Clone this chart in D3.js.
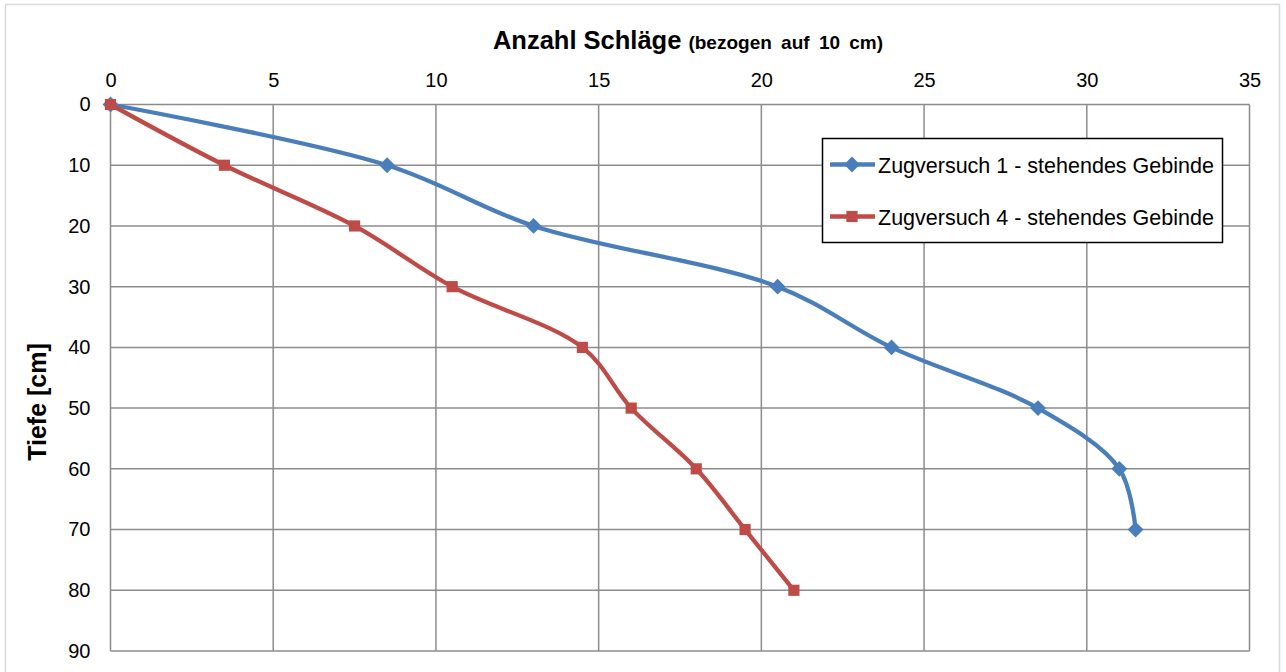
<!DOCTYPE html>
<html>
<head>
<meta charset="utf-8">
<script src="https://cdn.jsdelivr.net/npm/d3@7"></script>
<style>
  html, body { margin: 0; padding: 0; background: #fff; }
  svg { display: block; font-family: "Liberation Sans", Arial, sans-serif; }
</style>
</head>
<body>
<svg id="chart" width="1286" height="672"></svg>
<script>
// Schläge per 10 cm against depth for two pull tests
const depths = [0, 10, 20, 30, 40, 50, 60, 70, 80];
const blowsTest1 = [0, 8.5, 13, 20.5, 24, 28.5, 31, 31.5];
const blowsTest4 = [0, 3.5, 7.5, 10.5, 14.5, 16, 18, 19.5, 21];
const seriesNames = ["Zugversuch 1 - stehendes Gebinde", "Zugversuch 4 - stehendes Gebinde"];
const xTicks = [0, 5, 10, 15, 20, 25, 30, 35];
const yTicks = [0, 10, 20, 30, 40, 50, 60, 70, 80, 90];

const colors = ["#4a7ebb", "#be4b48"];

const svg = d3.select("#chart");
const m = { left: 110.5, right: 1249.5, top: 104.5, bottom: 651 };

// outer chart frame
svg.append("rect").attr("x", 5.5).attr("y", 4.5).attr("width", 1274).attr("height", 680)
  .attr("fill", "#fff").attr("stroke", "#d9d9d9").attr("stroke-width", 1.5);

const x = d3.scaleLinear().domain([0, 35]).range([m.left, m.right]);
const y = d3.scaleLinear().domain([0, 90]).range([m.top, m.bottom]);

// grid
const grid = svg.append("g");
grid.selectAll("line.v").data(xTicks).join("line")
  .attr("x1", d => x(d)).attr("x2", d => x(d))
  .attr("y1", m.top).attr("y2", m.bottom)
  .attr("stroke", "#8c8c8c").attr("stroke-width", 1.5);
grid.selectAll("line.h").data(yTicks).join("line")
  .attr("x1", m.left).attr("x2", m.right)
  .attr("y1", d => y(d)).attr("y2", d => y(d))
  .attr("stroke", "#8c8c8c").attr("stroke-width", 1.5);

// axes (top x axis, left y axis)
const xAxis = d3.axisTop(x).tickValues(xTicks).tickSize(0).tickPadding(18);
const gx = svg.append("g").attr("transform", `translate(0,${m.top})`).call(xAxis);
gx.select(".domain").remove();
gx.selectAll("text").attr("font-size", 20).attr("fill", "#000")
  .attr("font-family", "'Liberation Sans', Arial, sans-serif");

const yAxis = d3.axisLeft(y).tickValues(yTicks).tickSize(0).tickPadding(20);
const gy = svg.append("g").attr("transform", `translate(${m.left},0)`).call(yAxis);
gy.select(".domain").remove();
gy.selectAll("text").attr("font-size", 20).attr("fill", "#000")
  .attr("font-family", "'Liberation Sans', Arial, sans-serif");

// titles
const title = svg.append("text").attr("x", 688).attr("y", 49).attr("text-anchor", "middle")
  .attr("font-weight", "bold").attr("fill", "#000");
title.append("tspan").attr("font-size", 25.5).text("Anzahl Schläge ");
title.append("tspan").attr("font-size", 19).attr("word-spacing", 4).text("(bezogen auf 10 cm)");

svg.append("text").attr("transform", "translate(46,402) rotate(-90)")
  .attr("text-anchor", "middle").attr("font-weight", "bold").attr("font-size", 25)
  .text("Tiefe [cm]");

// series
const series = [blowsTest1, blowsTest4].map((vals, i) => ({
  name: seriesNames[i],
  color: colors[i],
  points: vals.map((v, j) => ({ x: v, y: depths[j] }))
}));

const line = d3.line().x(d => x(d.x)).y(d => y(d.y)).curve(d3.curveCatmullRom.alpha(0.5));

const diamond = d3.symbol().type(d3.symbolDiamond2).size(160);
const square = d3.symbol().type(d3.symbolSquare).size(125);
const shapes = [diamond, square];

series.forEach((s, i) => {
  svg.append("path").datum(s.points).attr("d", line)
    .attr("fill", "none").attr("stroke", s.color).attr("stroke-width", 4.3)
    .attr("stroke-linejoin", "round");
  svg.append("g").selectAll("path").data(s.points).join("path")
    .attr("transform", d => `translate(${x(d.x)},${y(d.y)})`)
    .attr("d", shapes[i]()).attr("fill", s.color);
});

// legend
const lg = svg.append("g");
lg.append("rect").attr("x", 822.5).attr("y", 138.5).attr("width", 400).attr("height", 104)
  .attr("fill", "#fff").attr("stroke", "#000").attr("stroke-width", 1.5);
series.forEach((s, i) => {
  const cy = 164.5 + i * 52;
  lg.append("line").attr("x1", 830).attr("x2", 875).attr("y1", cy).attr("y2", cy)
    .attr("stroke", s.color).attr("stroke-width", 4.3);
  lg.append("path").attr("transform", `translate(852,${cy})`).attr("d", shapes[i]()).attr("fill", s.color);
  lg.append("text").attr("x", 878).attr("y", cy + 8).attr("font-size", 21.5)
    .attr("fill", "#000").text(s.name);
});
</script>
</body>
</html>
